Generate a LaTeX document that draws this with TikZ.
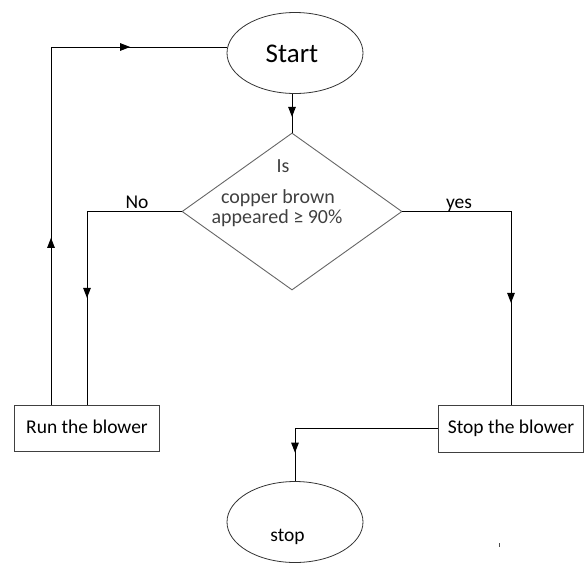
\documentclass[tikz,border=0pt]{standalone}
\usepackage{fontspec}
\setmainfont{Carlito}
\usetikzlibrary{shapes.geometric,arrows.meta,decorations.markings}
\tikzset{
  flowline/.style={draw=black, line width=1pt},
  midtip/.style={postaction={decorate}, decoration={markings,
      mark=at position #1 with {\arrow{Triangle[length=10pt,width=7.5pt]}}}},
  twotips/.style 2 args={postaction={decorate}, decoration={markings,
      mark=at position #1 with {\arrow{Triangle[length=10pt,width=7.5pt]}},
      mark=at position #2 with {\arrow{Triangle[length=10pt,width=7.5pt]}}}},
  term/.style={ellipse, draw=black!80, line width=0.8pt, minimum width=136pt,
      minimum height=81pt, inner sep=0pt},
  decide/.style={diamond, draw=black!60, line width=0.9pt, minimum width=220pt,
      minimum height=157pt, inner sep=0pt},
  procbox/.style={rectangle, draw=black!75, line width=0.9pt, minimum width=145pt,
      minimum height=46.5pt, inner sep=0pt, text height=14pt, text depth=4pt,
      font=\fontsize{19.5}{22}\selectfont},
  lbl/.style={inner sep=0pt, anchor=base, font=\fontsize{19.5}{22}\selectfont},
  dtext/.style={lbl, text=black!75, font=\fontsize{20}{22}\selectfont},
}
\begin{document}
\begin{tikzpicture}[x=1pt, y=-1pt]
\useasboundingbox (0,0) rectangle (586,563);

% shapes
\node[term] (start) at (295,53) {};
\node[lbl, font=\fontsize{27}{30}\selectfont] (starttext) at (292,62) {Start};
\node[decide] (dia) at (292,211.5) {};
\node[dtext] (q1) at (283,172) {Is};
\node[dtext] (q2) at (278,203) {copper brown};
\node[dtext] (q3) at (277,223) {appeared ≥ 90\%};
\node[procbox] (run) at (87,428.5) {Run the blower};
\node[procbox] (stopbox) at (511,428.7) {Stop the blower};
\node[term] (stop) at (295,522) {};
\node[lbl] (stoptext) at (287.5,541) {stop};

% branch labels
\node[lbl] (nolbl) at (137,208) {No};
\node[lbl] (yeslbl) at (459,208) {yes};

% loop coordinates
\coordinate (loopx) at (51,47);

% connectors
\draw[flowline, midtip=23pt] (dia.north |- start.south) -- (dia.north);
\draw[flowline, midtip=181pt] (dia.west) -| (run.north);
\draw[flowline, midtip=200pt] (dia.east) -| (stopbox.north);
\draw[flowline, midtip=167pt] (stopbox.west) -| (stop.north);
\draw[flowline, twotips={167pt}{437pt}] (run.north -| loopx) -- (loopx) -- (loopx -| start.west);

% small stray tick
\draw[black!70, line width=0.8pt] (499,543) -- (499,546.5);
\end{tikzpicture}
\end{document}
